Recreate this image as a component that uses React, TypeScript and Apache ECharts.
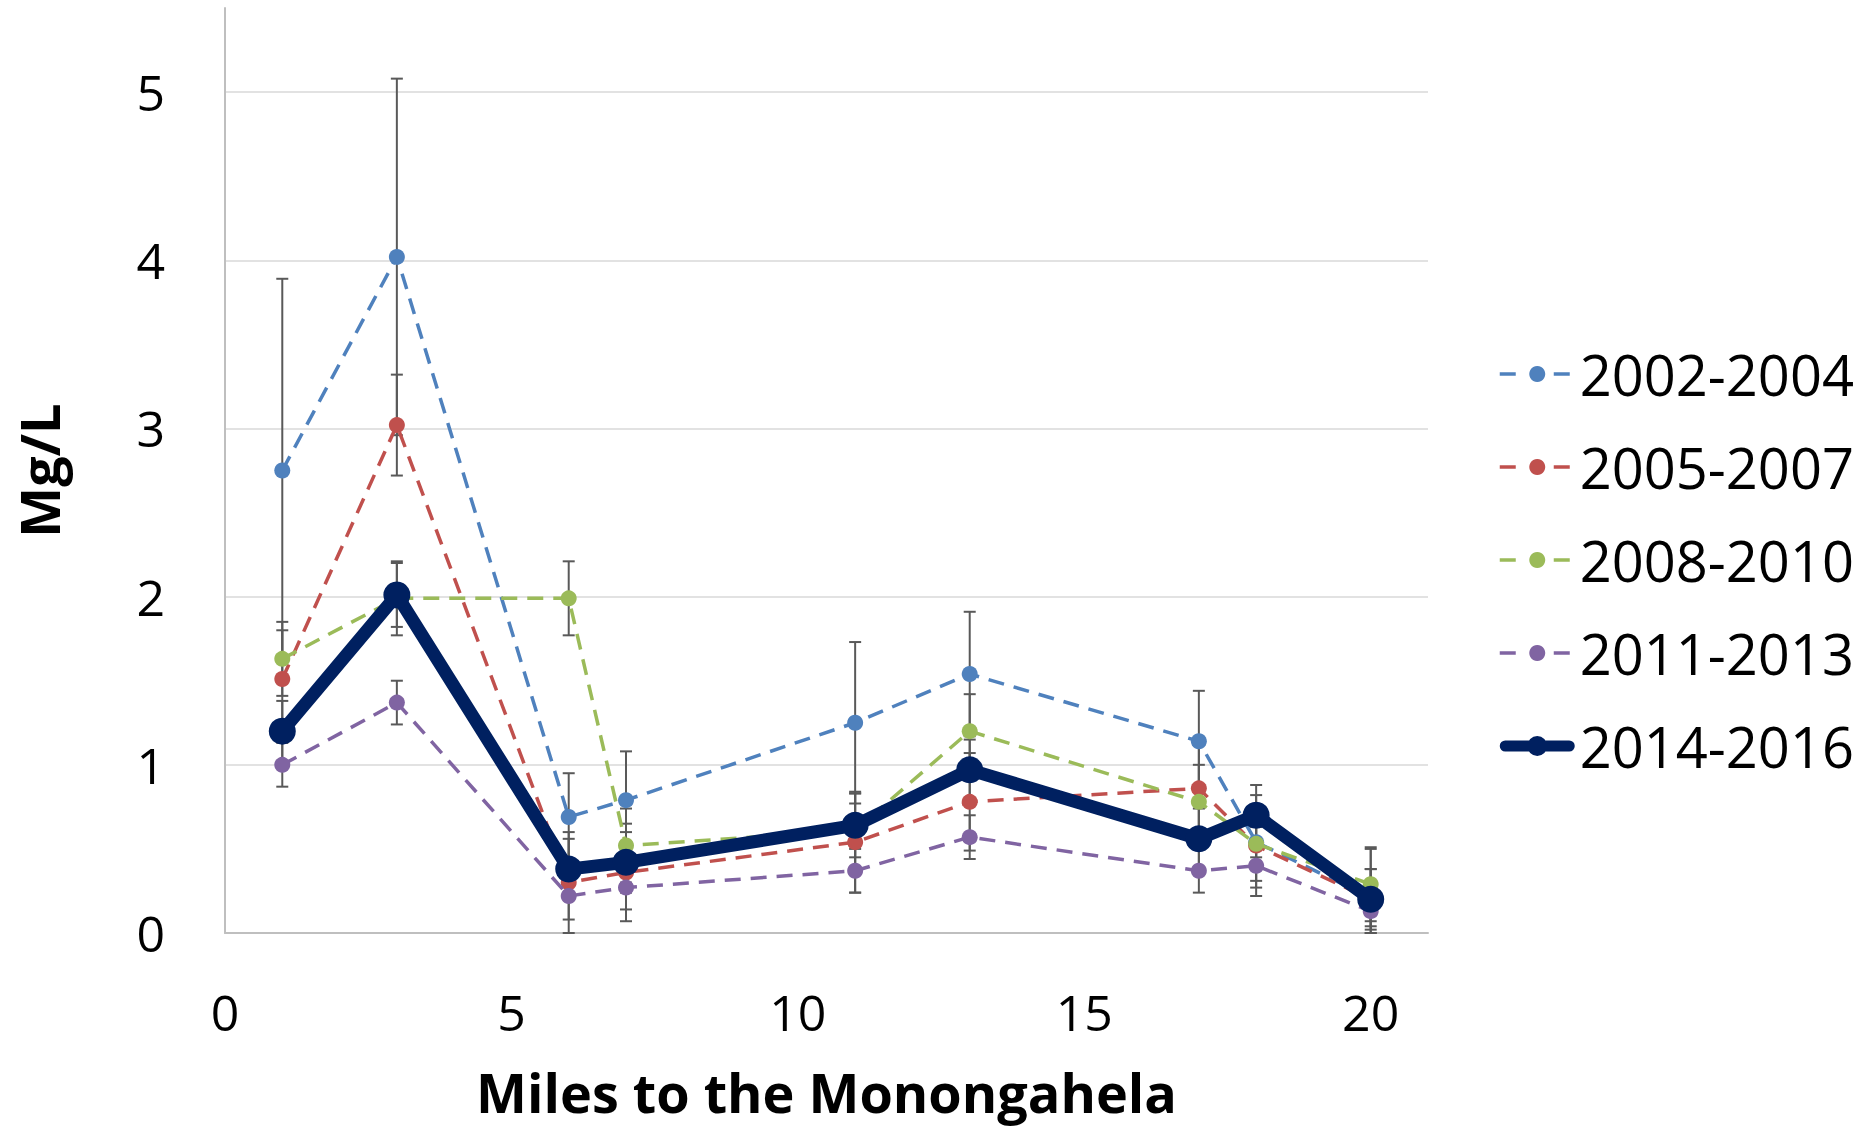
import React, { useEffect, useRef } from "react";
import * as echarts from "echarts";

// Sampling sites, miles upstream of the Monongahela confluence
const miles = [1, 3, 6, 7, 11, 13, 17, 18, 20];

const periods = ["2002-2004", "2005-2007", "2008-2010", "2011-2013", "2014-2016"];

// Mean concentration (mg/L) per site for each period
const mean2002 = [2.75, 4.02, 0.69, 0.79, 1.25, 1.54, 1.14, 0.54, 0.21];
const mean2005 = [1.51, 3.02, 0.30, 0.36, 0.54, 0.78, 0.86, 0.52, 0.20];
const mean2008 = [1.63, 1.99, 1.99, 0.52, 0.61, 1.20, 0.78, 0.53, 0.29];
const mean2011 = [1.00, 1.37, 0.22, 0.27, 0.37, 0.57, 0.37, 0.40, 0.13];
const mean2014 = [1.20, 2.01, 0.38, 0.42, 0.64, 0.97, 0.56, 0.70, 0.20];

// Error bar half-widths (mg/L)
const err2002 = [1.14, 1.06, 0.26, 0.29, 0.48, 0.37, 0.30, 0.09, 0.17];
const err2005 = [0.29, 0.30, 0.30, 0.29, 0.30, 0.29, 0.29, 0.30, 0.30];
const err2008 = [0.22, 0.22, 0.22, 0.22, 0.22, 0.22, 0.22, 0.22, 0.22];
const err2011 = [0.13, 0.13, 0.14, 0.13, 0.13, 0.13, 0.13, 0.13, 0.13];
const err2014 = [0.18, 0.19, 0.18, 0.18, 0.19, 0.18, 0.18, 0.18, 0.18];

const means = [mean2002, mean2005, mean2008, mean2011, mean2014];
const errs = [err2002, err2005, err2008, err2011, err2014];

const colors = ["#4f81bd", "#c0504d", "#9bbb59", "#8064a2", "#002060"];
const FONT = "'Open Sans', 'Noto Sans', sans-serif";

// Legend icon for the solid series: thick rounded bar with a dot in the middle (75 x 20 box)
const THICK_LINE_ICON =
  "path://M5.5,4.5 L69.5,4.5 A5.5,5.5 0 0 1 69.5,15.5 L5.5,15.5 A5.5,5.5 0 0 1 5.5,4.5 Z " +
  "M27.5,10 A10,10 0 1 1 47.5,10 A10,10 0 1 1 27.5,10 Z";

function buildOption(): echarts.EChartsOption {
  const errorData: number[][] = [];
  means.forEach((vals, s) => {
    vals.forEach((v, i) => {
      const e = errs[s][i];
      errorData.push([miles[i], Math.max(0, v - e), v + e]);
    });
  });

  const lastIdx = periods.length - 1;

  const lineSeries = periods.map((name, s) => {
    const isLatest = s === lastIdx;
    return {
      name,
      type: "line" as const,
      data: miles.map((m, i) => [m, means[s][i]]),
      symbol: "circle",
      symbolSize: isLatest ? 27 : 16,
      showAllSymbol: true,
      z: 3 + s,
      lineStyle: {
        color: colors[s],
        width: isLatest ? 13 : 3.5,
        type: isLatest ? ("solid" as const) : [16, 10],
        cap: "butt" as const,
        join: "round" as const,
      },
      itemStyle: { color: colors[s], borderWidth: 0 },
      emphasis: { disabled: true },
    };
  });

  const errorSeries = {
    name: "error",
    type: "custom" as const,
    data: errorData,
    encode: { x: 0, y: [1, 2] },
    z: 2,
    silent: true,
    renderItem: (_params: any, api: any) => {
      const x = api.value(0);
      const lo = api.coord([x, api.value(1)]);
      const hi = api.coord([x, api.value(2)]);
      const half = 6;
      const style = { stroke: "#595959", lineWidth: 2 };
      return {
        type: "group",
        children: [
          { type: "line", shape: { x1: lo[0], y1: lo[1], x2: hi[0], y2: hi[1] }, style },
          { type: "line", shape: { x1: hi[0] - half, y1: hi[1], x2: hi[0] + half, y2: hi[1] }, style },
          { type: "line", shape: { x1: lo[0] - half, y1: lo[1], x2: lo[0] + half, y2: lo[1] }, style },
        ],
      };
    },
  };

  const legendData = periods.map((name, s) =>
    s === lastIdx
      ? { name, icon: THICK_LINE_ICON }
      : { name, lineStyle: { width: 3.5, type: [16, 38] as number[], cap: "butt" as const } }
  );

  return {
    animation: false,
    backgroundColor: "#ffffff",
    textStyle: { fontFamily: FONT },
    grid: { left: 225, top: 8, right: 438, bottom: 198, containLabel: false },
    xAxis: {
      type: "value",
      min: 0,
      max: 21,
      interval: 5,
      name: "Miles to the Monongahela",
      nameLocation: "middle",
      nameGap: 132,
      nameTextStyle: { fontFamily: FONT, fontSize: 54, fontWeight: "bold", color: "#000" },
      axisLine: { show: true, onZero: false, lineStyle: { color: "#bfbfbf", width: 2 } },
      axisTick: { show: false },
      splitLine: { show: false },
      axisLabel: {
        fontFamily: FONT,
        fontSize: 50,
        color: "#000",
        margin: 54,
        showMaxLabel: false,
      },
    },
    yAxis: {
      type: "value",
      min: 0,
      max: 5.5,
      interval: 1,
      name: "Mg/L",
      nameLocation: "middle",
      nameRotate: 90,
      nameGap: 159,
      nameTextStyle: { fontFamily: FONT, fontSize: 54, fontWeight: "bold", color: "#000" },
      axisLine: { show: true, lineStyle: { color: "#bfbfbf", width: 2 } },
      axisTick: { show: false },
      splitLine: {
        show: true,
        showMinLine: false,
        showMaxLine: false,
        lineStyle: { color: "#d9d9d9", width: 1.5 },
      },
      axisLabel: {
        fontFamily: FONT,
        fontSize: 50,
        color: "#000",
        margin: 60,
        showMaxLabel: false,
      },
    },
    legend: {
      orient: "vertical",
      left: 1493,
      top: 339,
      padding: 5,
      itemWidth: 75,
      itemHeight: 20,
      itemGap: 33,
      data: legendData as any,
      selectedMode: false,
      textStyle: { fontFamily: FONT, fontSize: 56, color: "#000", lineHeight: 60 },
    },
    series: [errorSeries, ...lineSeries] as any,
  };
}

export default function App() {
  const ref = useRef<HTMLDivElement>(null);
  useEffect(() => {
    if (!ref.current) return;
    const chart = echarts.init(ref.current, undefined, { renderer: "svg" });
    chart.setOption(buildOption());
    return () => chart.dispose();
  }, []);
  return (
    <div
      ref={ref}
      style={{ position: "fixed", left: 0, top: 0, width: 1866, height: 1131, background: "#fff" }}
    />
  );
}
